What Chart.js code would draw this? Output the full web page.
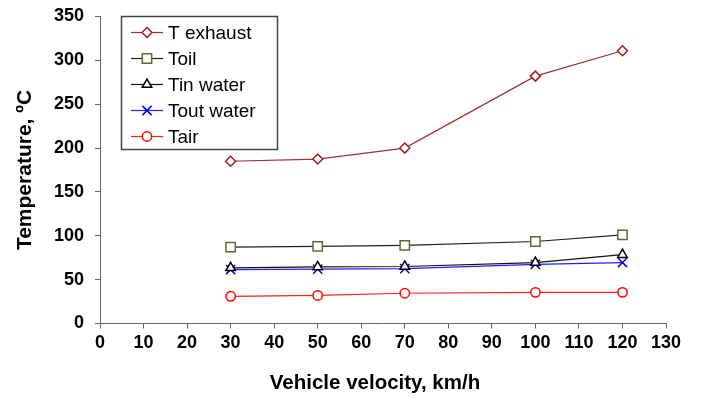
<!DOCTYPE html>
<html>
<head>
<meta charset="utf-8">
<script src="https://cdn.jsdelivr.net/npm/chart.js@4/dist/chart.umd.min.js"></script>
<style>
html,body{margin:0;padding:0;background:#fff;}
#wrap{width:702px;height:399px;position:relative;}
</style>
</head>
<body>
<div id="wrap"><canvas id="c" width="702" height="399"></canvas></div>
<script>
const velocity = [30, 50, 70, 100, 120];
const tExhaust = [185, 187.5, 200, 282, 311];
const tOil = [87, 88, 89, 93.5, 101];
const tInWater = [63.5, 64.5, 65, 69.5, 78.5];
const tOutWater = [61.5, 62, 62.5, 67.5, 69.5];
const tAir = [31, 32, 34.5, 35.5, 35.5];
const seriesNames = ['T exhaust', 'Toil', 'Tin water', 'Tout water', 'Tair'];
const xTitle = 'Vehicle velocity, km/h';
const yTitle = 'Temperature, ºC';

const FONT = "'Liberation Sans', Arial, Helvetica, sans-serif";

function pts(ys){ return velocity.map((v,i)=>({x:v,y:ys[i]})); }

function ds(label, ys, line, mark, style, r){
  return {
    label, data: pts(ys), borderColor: line, borderWidth: 1.2, tension: 0,
    pointStyle: style, pointRadius: r, pointHoverRadius: r,
    pointBorderColor: mark, pointBackgroundColor: style==='crossRot' ? mark : '#ffffff',
    pointBorderWidth: 1.5, fill: false
  };
}

const datasets = [
  ds(seriesNames[0], tExhaust, '#a03030', '#a02020', 'rectRot', 5),
  ds(seriesNames[1], tOil, '#222222', '#666633', 'rect', 6.6),
  ds(seriesNames[2], tInWater, '#111111', '#000000', 'triangle', 5.5),
  ds(seriesNames[3], tOutWater, '#2020ff', '#0000ff', 'crossRot', 6.5),
  ds(seriesNames[4], tAir, '#ff2020', '#ff0000', 'circle', 4.7)
];

function drawMarker(ctx, style, x, y, r, bw){
  if (Chart.helpers && Chart.helpers.drawPoint) {
    Chart.helpers.drawPoint(ctx, {pointStyle: style, rotation: 0, radius: r, borderWidth: bw}, x, y);
    return;
  }
  ctx.beginPath();
  if (style==='circle') ctx.arc(x,y,r,0,Math.PI*2);
  else if (style==='rect'){ const s=r*Math.SQRT1_2; ctx.rect(x-s,y-s,2*s,2*s); }
  else if (style==='rectRot'){ ctx.moveTo(x-r,y);ctx.lineTo(x,y-r);ctx.lineTo(x+r,y);ctx.lineTo(x,y+r);ctx.closePath(); }
  else if (style==='triangle'){ ctx.moveTo(x,y-r); ctx.lineTo(x+r*0.866,y+r/2); ctx.lineTo(x-r*0.866,y+r/2); ctx.closePath(); }
  else if (style==='crossRot'){ const s=r*Math.SQRT1_2; ctx.moveTo(x-s,y-s);ctx.lineTo(x+s,y+s);ctx.moveTo(x+s,y-s);ctx.lineTo(x-s,y+s); }
  if (style!=='crossRot') ctx.fill();
  ctx.stroke();
}

const overlay = {
  id: 'overlay',
  afterDraw(chart){
    const ctx = chart.ctx;
    ctx.save();
    // x axis title
    ctx.fillStyle = '#000000';
    ctx.font = 'bold 20.5px ' + FONT;
    ctx.textAlign = 'center'; ctx.textBaseline = 'middle';
    ctx.fillText(xTitle, 375, 383);
    // legend
    const L=121.5, T=16.5, R=277.5, B=149.5;
    ctx.fillStyle='#ffffff';
    ctx.fillRect(L,T,R-L,B-T);
    ctx.strokeStyle='#444444'; ctx.lineWidth=1.5;
    ctx.strokeRect(L,T,R-L,B-T);
    chart.data.datasets.forEach((d,i)=>{
      const y = 32.5 + i*26;
      ctx.strokeStyle = d.borderColor; ctx.lineWidth = 1.2;
      ctx.beginPath(); ctx.moveTo(131,y); ctx.lineTo(163,y); ctx.stroke();
      ctx.strokeStyle = d.pointBorderColor; ctx.fillStyle = d.pointBackgroundColor; ctx.lineWidth = 1.5;
      drawMarker(ctx, d.pointStyle, 147, y, d.pointRadius, 1.5);
      ctx.fillStyle = '#000000';
      ctx.font = '19px ' + FONT;
      ctx.textBaseline = 'middle'; ctx.textAlign = 'left';
      ctx.fillText(d.label, 168, y+1);
    });
    ctx.restore();
  }
};

new Chart(document.getElementById('c'), {
  type: 'line',
  data: { datasets },
  options: {
    responsive: false, animation: false, devicePixelRatio: 1,
    layout: { padding: { left: 0, top: 16.5, right: 36, bottom: 0 } },
    plugins: { legend: { display: false }, tooltip: { enabled: false } },
    scales: {
      x: {
        type: 'linear', min: 0, max: 130,
        afterFit(s){ s.height = 75.5; },
        ticks: { stepSize: 10, color: '#000', padding: 4, font: { family: FONT, size: 18, weight: 'bold' }, maxRotation: 0 },
        grid: { drawOnChartArea: false, drawTicks: true, tickLength: 5, color: '#666666' },
        border: { color: '#666666', width: 1 },
        title: { display: false, text: xTitle }
      },
      y: {
        min: 0, max: 350,
        afterFit(s){ s.width = 100; s.paddingTop = 0; s.paddingBottom = 0; },
        ticks: { stepSize: 50, color: '#000', padding: 11, font: { family: FONT, size: 18, weight: 'bold' } },
        grid: { drawOnChartArea: false, drawTicks: true, tickLength: 5, color: '#666666' },
        border: { color: '#666666', width: 1 },
        title: { display: true, text: yTitle, color: '#000', font: { family: FONT, size: 21, weight: 'bold' }, padding: { top: 13, bottom: 0 } }
      }
    }
  },
  plugins: [overlay]
});
</script>
</body>
</html>
